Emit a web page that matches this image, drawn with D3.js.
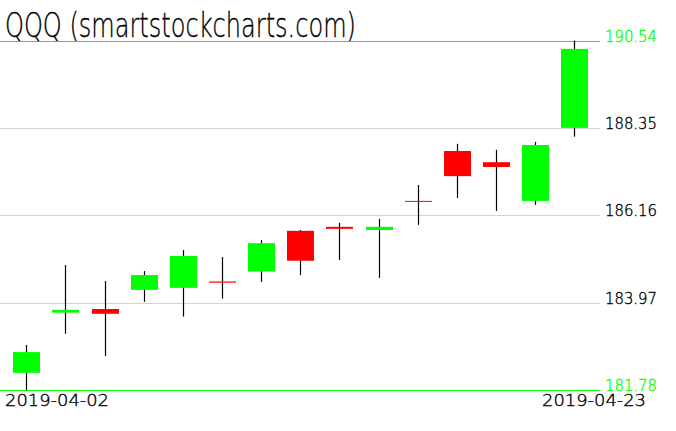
<!DOCTYPE html>
<html><head><meta charset="utf-8">
<script src="https://cdn.jsdelivr.net/npm/d3@7"></script>
<style>html,body{margin:0;padding:0;background:#fff;}svg{display:block;}</style>
</head><body>
<svg id="c" width="676" height="431"></svg>
<script>
const dates = ["2019-04-02","2019-04-03","2019-04-04","2019-04-05","2019-04-08","2019-04-09","2019-04-10","2019-04-11","2019-04-12","2019-04-15","2019-04-16","2019-04-17","2019-04-18","2019-04-22","2019-04-23"];
const opens  = [182.21,183.72,183.81,184.29,184.34,184.50,184.75,185.77,185.87,185.79,186.52,187.77,187.49,186.52,188.35];
const highs  = [182.91,184.91,184.51,184.76,185.29,185.11,185.54,185.79,185.97,186.07,186.92,187.95,187.80,188.00,190.54];
const lows   = [181.78,183.19,182.63,183.99,183.62,184.07,184.49,184.66,185.04,184.59,185.92,186.59,186.27,186.42,188.13];
const closes = [182.73,183.79,183.69,184.66,185.14,184.47,185.46,185.02,185.82,185.87,186.52,187.14,187.37,187.92,190.33];
const tickLabels = ["181.78","183.97","186.16","188.35","190.54"];
const title = "QQQ (smartstockcharts.com)";

const svg = d3.select("#c");
const font = "DejaVu Sans";
const y = d3.scaleLinear().domain([181.78, 190.54]).range([390, 40.5]);
const x = d3.scaleBand().domain(dates).range([6.7, 593.8]).padding(0);
const bw = x.bandwidth()*0.69;
const cx = d => Math.round(x(d) + x.bandwidth()/2) + 0.5;

function txt(sel, color){
  return sel.attr("font-family", font).attr("font-weight", 200)
    .attr("fill", color).attr("stroke", color).attr("stroke-width", 0.35)
    .attr("lengthAdjust", "spacingAndGlyphs");
}

// title
txt(svg.append("text").attr("x", 5).attr("y", 37).attr("font-size", 33).attr("textLength", 351), "#000").text(title);

// grid lines
const tv = tickLabels.map(Number);
svg.selectAll("line.grid").data(tv).enter().append("line")
  .attr("x1", 0).attr("x2", 600)
  .attr("y1", d => Math.round(y(d)) + 0.5).attr("y2", d => Math.round(y(d)) + 0.5)
  .attr("stroke", (d,i) => (i===0 || i===tv.length-1) ? "#00ff00" : "#d3d3d3").attr("stroke-width", 1);

// candles
const g = svg.append("g");
dates.forEach((d,i) => {
  g.append("line").attr("x1", cx(d)).attr("x2", cx(d))
    .attr("y1", y(highs[i])).attr("y2", y(lows[i])).attr("stroke", "#000").attr("stroke-width", 1.2);
  const top = y(Math.max(opens[i], closes[i])), bot = y(Math.min(opens[i], closes[i]));
  g.append("rect").attr("x", cx(d) - bw/2).attr("width", bw)
    .attr("y", top).attr("height", Math.max(1, bot - top))
    .attr("fill", closes[i] > opens[i] ? "#00ff00" : "#ff0000");
});

// right labels
tickLabels.forEach((d,i) => {
  const c = (i===0 || i===tickLabels.length-1) ? "#00ff00" : "#000";
  txt(svg.append("text").attr("x", 605).attr("y", y(+d) + 1).attr("font-size", 15).attr("textLength", 52), c).text(d);
});

// date labels
txt(svg.append("text").attr("x", 5).attr("y", 406).attr("font-size", 15).attr("textLength", 104), "#000").text(dates[0]);
txt(svg.append("text").attr("x", 646).attr("y", 406).attr("text-anchor", "end").attr("font-size", 15).attr("textLength", 104), "#000").text(dates[dates.length-1]);
</script>
</body></html>
